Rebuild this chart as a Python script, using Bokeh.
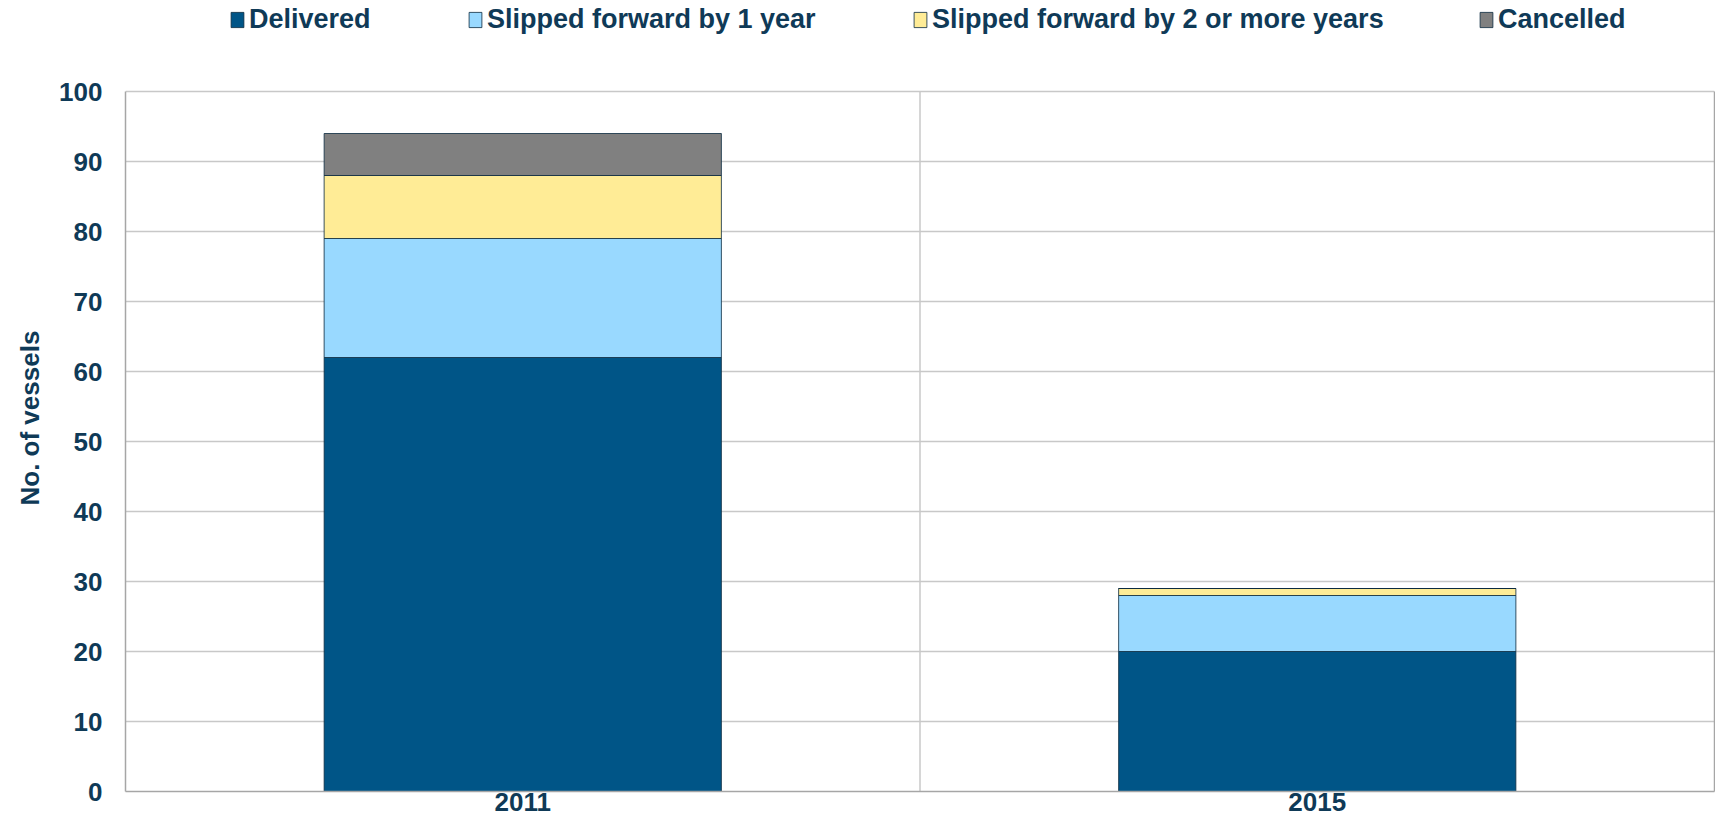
from bokeh.plotting import figure
from bokeh.models import Legend, LegendItem, FixedTicker, FactorRange, Range1d, LinearAxis, Title
from bokeh.embed import file_html
from bokeh.resources import INLINE

years = ["2011", "2015"]
delivered = [62, 20]
slipped_1 = [17, 8]
slipped_2 = [9, 1]
cancelled = [6, 0]

series = ["delivered", "slipped_1", "slipped_2", "cancelled"]
labels = ["Delivered", "Slipped forward by 1 year", "Slipped forward by 2 or more years", "Cancelled"]
colors = ["#005587", "#99D9FF", "#FFEC96", "#808080"]
y_ticks = [0, 10, 20, 30, 40, 50, 60, 70, 80, 90, 100]

FONT = "Liberation Sans"
TEXT = "#0f3a57"
GRID = "#c8c8c8"
AXIS = "#a6a6a6"

data = dict(years=years, delivered=delivered, slipped_1=slipped_1,
            slipped_2=slipped_2, cancelled=cancelled)

# frame reaches the top of the canvas so that the legend can sit inside it
p = figure(x_range=FactorRange(*years, range_padding=0), y_range=Range1d(0, 113),
           width=1715, height=822,
           min_border_left=123, min_border_top=0, min_border_right=1, min_border_bottom=31,
           output_backend="svg", toolbar_location=None)
p.outline_line_color = None

# category boundary line (0..100)
p.segment(x0=[1], y0=[y_ticks[0]], x1=[1], y1=[y_ticks[-1]],
          line_color=GRID, line_width=1.5, level="underlay")

renderers = p.vbar_stack(series, x="years", width=0.5, source=data, color=colors,
                         line_color="#0b2a40", line_width=1, line_alpha=0.8)

# grid
p.xgrid.grid_line_color = None
p.ygrid.grid_line_color = GRID
p.ygrid.grid_line_width = 1.5
p.ygrid.ticker = FixedTicker(ticks=y_ticks)

# y axis
ya = p.yaxis[0]
ya.bounds = (0, 100)
ya.ticker = FixedTicker(ticks=y_ticks)
ya.major_label_text_font = FONT
ya.major_label_text_font_style = "bold"
ya.major_label_text_font_size = "26px"
ya.major_label_text_color = TEXT
ya.major_label_standoff = 23
ya.major_tick_line_color = None
ya.minor_tick_line_color = None
ya.major_tick_out = 0
ya.axis_line_color = AXIS
ya.axis_line_width = 1.5

# y axis title, placed where the original has it
p.add_layout(Title(text="No. of vessels", align="left", offset=286, standoff=24,
                   text_font=FONT, text_font_style="bold", text_font_size="26px",
                   text_color=TEXT), "left")

# right border as a bare axis
ra = LinearAxis(bounds=(0, 100), ticker=FixedTicker(ticks=[]), axis_line_color=AXIS,
                axis_line_width=1.5, major_tick_line_color=None, minor_tick_line_color=None,
                major_tick_out=0, major_label_standoff=0)
p.add_layout(ra, "right")

# x axis
xa = p.xaxis[0]
xa.major_label_text_font = FONT
xa.major_label_text_font_style = "bold"
xa.major_label_text_font_size = "26px"
xa.major_label_text_color = TEXT
xa.major_label_standoff = 1
xa.major_tick_line_color = None
xa.minor_tick_line_color = None
xa.major_tick_out = 0
xa.axis_line_color = AXIS
xa.axis_line_width = 1.5

# legend: one Legend per item, positioned like the original
legend_x = [104, 342, 787, 1353]
for r, lab, lx in zip(renderers, labels, legend_x):
    lg = Legend(items=[LegendItem(label=lab, renderers=[r])], location=(lx, 756),
                orientation="horizontal", padding=0, margin=0, spacing=0,
                glyph_width=16, glyph_height=19, label_standoff=4,
                label_text_font=FONT, label_text_font_style="bold",
                label_text_font_size="27px", label_text_color=TEXT,
                border_line_color=None, background_fill_alpha=0)
    p.add_layout(lg, "center")

open("out.html", "w").write(file_html(p, INLINE))
